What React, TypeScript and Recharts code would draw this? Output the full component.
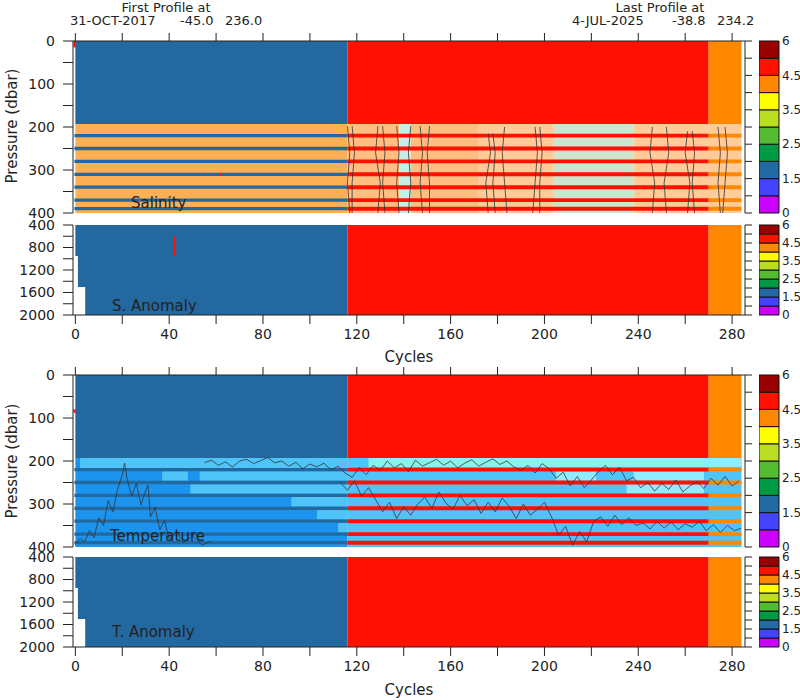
import React from 'react';
import { ComposedChart, BarChart, Bar, XAxis, YAxis, ReferenceArea, Line } from 'recharts';

const FONT = '"DejaVu Sans", sans-serif';

// palette
const BLUE = '#2468A0';
const RED = '#FF1000';
const ORANGE = '#FF8800';

// float record split into three colour segments (cycles)
const segFrom = [0, 116, 270];
const segTo = [116, 270, 284];
const segColor = [BLUE, RED, ORANGE];

const mixedBottom = 193; // dbar, end of the solid upper block
const stripePressures = [220, 250, 280, 310, 340, 370, 390];

const cycleTicks = [0, 20, 40, 60, 80, 100, 120, 140, 160, 180, 200, 220, 240, 260, 280];
const upperTicks = [0, 50, 100, 150, 200, 250, 300, 350, 400];
const upperRightTicks = [0, 40, 80, 120, 160, 200, 240, 280, 320, 360, 400];
const deepTicks = [400, 600, 800, 1000, 1200, 1400, 1600, 1800, 2000];
const deepRightTicks = [400, 560, 720, 880, 1040, 1200, 1360, 1520, 1680, 1840, 2000];

// salinity 193-400 dbar background shades by cycle range
const salShadeFrom = [0, 116, 138, 143, 172, 204, 238];
const salShadeTo = [116, 138, 143, 172, 204, 238, 284];
const salShade = ['#FDAF55', '#FFBE82', '#C6EEE4', '#FFBE82', '#FFCB98', '#CDE5CF', '#FFCB98'];

// temperature 193-400 dbar: [cycle from, cycle to, p from, p to, shade]
const tempBase: [number, number, number, number, number][] = [
  [0, 116, 193, 400, 0],
  [116, 284, 193, 400, 1],
  [2, 116, 193, 216, 1],
  [37, 48, 224, 246, 1],
  [53, 116, 224, 246, 1],
  [49, 116, 254, 276, 1],
  [92, 116, 284, 306, 1],
  [103, 116, 314, 336, 1],
  [112, 116, 344, 366, 1],
  [125, 284, 193, 214, 2],
  [205, 222, 224, 246, 2],
  [238, 268, 224, 246, 2],
  [235, 268, 254, 276, 2],
];
const tempShades = ['#1A94EE', '#4EC4F8', '#8FEDFF'];

// isotherm traces [cycle, dbar]
const tempUpper: [number, number][] = [
  [55, 204], [58, 198], [61, 210], [64, 202], [67, 214], [70, 200], [73, 196], [76, 206], [79, 199], [82, 192],
  [85, 204], [88, 200], [91, 212], [94, 203], [97, 218], [100, 207], [103, 214], [106, 205], [109, 221], [112, 212],
  [115, 228], [118, 238], [121, 215], [124, 232], [127, 210], [130, 222], [133, 200], [136, 216], [139, 206], [142, 225],
  [145, 198], [148, 212], [151, 204], [154, 196], [157, 210], [160, 200], [163, 216], [166, 205], [169, 197], [172, 212],
  [175, 203], [178, 195], [181, 208], [184, 200], [187, 214], [190, 222], [193, 210], [196, 228], [199, 206], [202, 218],
  [205, 240], [208, 226], [211, 258], [214, 236], [217, 262], [220, 244], [223, 225], [226, 210], [229, 232], [232, 214],
  [235, 246], [238, 238], [241, 262], [244, 250], [247, 270], [250, 252], [253, 266], [256, 244], [259, 272], [262, 258],
  [265, 248], [268, 264], [271, 240], [274, 256], [277, 236], [280, 258], [283, 246],
];
const tempLowerLeft: [number, number][] = [
  [0, 395], [2, 380], [4, 388], [6, 362], [8, 378], [10, 332], [12, 350], [14, 292], [16, 318], [18, 266],
  [20, 232], [21, 205], [22, 240], [24, 282], [26, 252], [28, 302], [30, 268], [31, 256], [32, 330], [34, 308],
  [36, 360], [38, 338], [40, 382], [43, 364], [46, 390], [50, 374], [54, 396], [58, 386],
];
const tempLowerRight: [number, number][] = [
  [113, 250], [116, 268], [119, 246], [122, 282], [125, 262], [128, 290], [131, 318], [134, 296], [137, 334], [140, 306],
  [143, 326], [146, 300], [149, 284], [152, 310], [155, 272], [158, 298], [161, 312], [164, 280], [167, 304], [170, 290],
  [173, 322], [176, 296], [179, 318], [182, 286], [185, 306], [188, 334], [191, 300], [194, 326], [197, 312], [200, 296],
  [203, 330], [206, 372], [209, 352], [212, 396], [215, 364], [218, 388], [221, 340], [224, 330], [227, 352], [230, 326],
  [233, 348], [236, 332], [239, 350], [242, 344], [245, 358], [248, 340], [251, 356], [254, 342], [257, 360], [260, 346],
  [263, 354], [266, 340], [269, 362], [272, 348], [275, 366], [278, 350], [281, 362], [284, 356],
];

// isohaline traces, each [cycle, dbar]
const salContours: [number, number][][] = [
  [[116, 198], [117, 260], [116, 330], [117, 400]],
  [[118, 198], [119, 260], [118, 330], [118, 400]],
  [[129, 198], [128, 260], [130, 330], [129, 400]],
  [[131, 198], [132, 260], [131, 330], [132, 400]],
  [[137, 198], [138, 260], [137, 330], [138, 400]],
  [[143, 198], [142, 260], [143, 330], [142, 400]],
  [[147, 198], [148, 260], [147, 330], [148, 400]],
  [[151, 198], [150, 260], [151, 330], [151, 400]],
  [[176, 215], [177, 260], [175, 330], [176, 400]],
  [[178, 215], [179, 260], [178, 330], [179, 400]],
  [[183, 200], [182, 260], [183, 330], [184, 400]],
  [[196, 200], [197, 260], [196, 330], [195, 400]],
  [[198, 200], [199, 260], [198, 330], [198, 400]],
  [[246, 200], [245, 260], [247, 330], [246, 400]],
  [[252, 200], [253, 260], [251, 330], [252, 400]],
  [[261, 210], [260, 260], [262, 330], [261, 400]],
  [[263, 210], [264, 260], [263, 330], [264, 400]],
  [[274, 200], [275, 260], [274, 330], [275, 400]],
  [[277, 200], [278, 260], [277, 330], [276, 400]],
];

// anomaly panels: profile start cycle per depth band
const anomStart = [0, 1.1, 4.2];
const anomFrom = [400, 950, 1500];
const anomTo = [950, 1500, 2000];

// colour bar
const cbColors = ['#CC00FF', '#4444FF', '#236AA4', '#009944', '#55BB33', '#BBDD22', '#FFFF00', '#FF8800', '#FF1000', '#990000'];
const cbTickPos = [0, 2, 4, 6, 8, 10];
const cbTickLabels = ['0', '1.5', '2.5', '3.5', '4.5', '6'];

const X_DOMAIN: [number, number] = [-1, 285.5];

type Rect = { c1: number; c2: number; p1: number; p2: number; fill: string };

const upperBlock = (): Rect[] =>
  segFrom.map((c1, i) => ({ c1, c2: segTo[i], p1: 0, p2: mixedBottom, fill: segColor[i] }));

const stripes = (): Rect[] =>
  stripePressures.flatMap((p) =>
    segFrom.map((c1, i) => {
      const h = i === 0 ? 3.8 : 4.5;
      return { c1: i === 0 ? -0.4 : c1, c2: segTo[i], p1: p - h, p2: p + h, fill: segColor[i] };
    })
  );

const anomBlock = (): Rect[] => [
  ...anomStart.map((s, i) => ({ c1: s, c2: segTo[0], p1: anomFrom[i], p2: anomTo[i], fill: BLUE })),
  ...segFrom.slice(1).map((c1, i) => ({ c1, c2: segTo[i + 1], p1: 400, p2: 2000, fill: segColor[i + 1] })),
];

const salRects: Rect[] = [
  ...upperBlock(),
  ...salShadeFrom.map((c1, i) => ({ c1, c2: salShadeTo[i], p1: mixedBottom, p2: 400, fill: salShade[i] })),
  ...stripes(),
  { c1: -0.8, c2: 0.2, p1: 0, p2: 15, fill: RED },
  { c1: 61.5, c2: 62.5, p1: 307, p2: 313, fill: RED },
];

const tempRects: Rect[] = [
  ...upperBlock(),
  ...tempBase.map(([c1, c2, p1, p2, s]) => ({ c1, c2, p1, p2, fill: tempShades[s] })),
  ...stripes(),
  { c1: -0.8, c2: 0.2, p1: 80, p2: 88, fill: RED },
];

const sAnomRects: Rect[] = [...anomBlock(), { c1: 41.8, c2: 42.6, p1: 600, p2: 950, fill: RED }];
const tAnomRects: Rect[] = anomBlock();

const toPts = (a: [number, number][]) => a.map(([c, p]) => ({ c, p }));

const tickStyle = { fontSize: 14, fill: '#222', fontFamily: FONT };

type PanelProps = {
  top: number;
  height: number;
  mTop: number;
  mBottom: number;
  yDomain: [number, number];
  leftTicks: number[];
  labelStep: number;
  rightTicks: number[];
  bottomAxis: boolean;
  rects: Rect[];
  traces: [number, number][][];
};

function Panel({ top, height, mTop, mBottom, yDomain, leftTicks, labelStep, rightTicks, bottomAxis, rects, traces }: PanelProps) {
  return (
    <div style={{ position: 'absolute', left: 0, top, width: 800, height }}>
      <ComposedChart width={800} height={height} margin={{ top: mTop, right: 45, bottom: mBottom, left: 0 }}>
        <XAxis
          xAxisId="x"
          type="number"
          dataKey="c"
          orientation={bottomAxis ? 'bottom' : 'top'}
          domain={X_DOMAIN}
          allowDataOverflow
          ticks={cycleTicks}
          interval={0}
          height={bottomAxis ? 30 : 8}
          tickSize={bottomAxis ? 9 : 8}
          tickMargin={5}
          stroke="#222"
          tick={tickStyle}
          tickFormatter={(v: number) => (bottomAxis && v % 40 === 0 ? String(v) : '')}
        />
        <YAxis
          yAxisId="l"
          type="number"
          dataKey="p"
          domain={yDomain}
          reversed
          allowDataOverflow
          ticks={leftTicks}
          interval={0}
          width={73}
          tickSize={10}
          tickMargin={8}
          stroke="#222"
          tick={tickStyle}
          tickFormatter={(v: number) => (v % labelStep === 0 ? String(v) : '')}
        />
        <YAxis
          yAxisId="r"
          orientation="right"
          type="number"
          domain={yDomain}
          reversed
          allowDataOverflow
          ticks={rightTicks}
          interval={0}
          width={10}
          tickSize={7}
          stroke="#222"
          tickFormatter={() => ''}
        />
        {rects.map((r, i) => (
          <ReferenceArea
            key={'r' + i}
            xAxisId="x"
            yAxisId="l"
            x1={r.c1}
            x2={r.c2}
            y1={r.p1}
            y2={r.p2}
            fill={r.fill}
            fillOpacity={1}
            stroke="none"
            ifOverflow="hidden"
          />
        ))}
        {traces.map((t, i) => (
          <Line
            key={'t' + i}
            xAxisId="x"
            yAxisId="l"
            data={toPts(t)}
            dataKey="p"
            type="linear"
            stroke="#333"
            strokeWidth={0.8}
            dot={false}
            activeDot={false}
            isAnimationActive={false}
          />
        ))}
      </ComposedChart>
    </div>
  );
}

function ColorBar({ top, height }: { top: number; height: number }) {
  const row = [Object.fromEntries([['name', 'cb'], ...cbColors.map((_, i) => ['k' + i, 1])])];
  return (
    <div style={{ position: 'absolute', left: 759, top: top - 10, width: 45, height: height + 20 }}>
      <BarChart width={45} height={height + 20} data={row} margin={{ top: 10, right: 0, bottom: 10, left: 0 }} barCategoryGap={0}>
        <XAxis dataKey="name" hide />
        <YAxis
          orientation="right"
          type="number"
          domain={[0, 10]}
          ticks={cbTickPos}
          interval={0}
          width={25}
          axisLine={false}
          tickLine={false}
          tickSize={0}
          tickMargin={3}
          tick={{ fontSize: 12, fill: '#222', fontFamily: FONT }}
          tickFormatter={(v: number) => cbTickLabels[cbTickPos.indexOf(v)]}
        />
        {cbColors.map((c, i) => (
          <Bar key={i} dataKey={'k' + i} stackId="cb" fill={c} stroke="#111" strokeWidth={1} isAnimationActive={false} />
        ))}
      </BarChart>
    </div>
  );
}

function Txt({ x, y, size = 15, center = false, rotate = false, children }: { x: number; y: number; size?: number; center?: boolean; rotate?: boolean; children: React.ReactNode }) {
  const tf = rotate ? 'translate(-50%,-50%) rotate(-90deg)' : center ? 'translate(-50%,-50%)' : 'translateY(-50%)';
  return (
    <div style={{ position: 'absolute', left: x, top: y, fontSize: size, lineHeight: 1, whiteSpace: 'nowrap', transform: tf, color: '#222', fontFamily: FONT }}>
      {children}
    </div>
  );
}

export default function App() {
  return (
    <div style={{ position: 'absolute', left: 0, top: 0, width: 800, height: 700, background: '#fff', overflow: 'hidden' }}>
      <Panel top={0} height={232} mTop={33} mBottom={19} yDomain={[0, 400]} leftTicks={upperTicks} labelStep={100} rightTicks={upperRightTicks} bottomAxis={false} rects={salRects} traces={salContours} />
      <Panel top={215} height={130} mTop={10} mBottom={0} yDomain={[400, 2000]} leftTicks={deepTicks} labelStep={400} rightTicks={deepRightTicks} bottomAxis rects={sAnomRects} traces={[]} />
      <Panel top={330} height={236} mTop={37} mBottom={19} yDomain={[0, 400]} leftTicks={upperTicks} labelStep={100} rightTicks={upperRightTicks} bottomAxis={false} rects={tempRects} traces={[tempUpper, tempLowerLeft, tempLowerRight]} />
      <Panel top={547} height={130} mTop={10} mBottom={0} yDomain={[400, 2000]} leftTicks={deepTicks} labelStep={400} rightTicks={deepRightTicks} bottomAxis rects={tAnomRects} traces={[]} />

      <ColorBar top={41} height={172} />
      <ColorBar top={225} height={90} />
      <ColorBar top={375} height={172} />
      <ColorBar top={557} height={90} />

      <Txt x={166} y={6.5} size={13} center>First Profile at</Txt>
      <Txt x={70} y={19.5} size={13}>31-OCT-2017</Txt>
      <Txt x={180} y={19.5} size={13}>-45.0</Txt>
      <Txt x={225} y={19.5} size={13}>236.0</Txt>
      <Txt x={660} y={6.5} size={13} center>Last Profile at</Txt>
      <Txt x={572} y={19.5} size={13}>4-JUL-2025</Txt>
      <Txt x={672} y={19.5} size={13}>-38.8</Txt>
      <Txt x={717} y={19.5} size={13}>234.2</Txt>

      <Txt x={12} y={126} rotate>Pressure (dbar)</Txt>
      <Txt x={12} y={461} rotate>Pressure (dbar)</Txt>

      <Txt x={131} y={203}>Salinity</Txt>
      <Txt x={112} y={306}>S. Anomaly</Txt>
      <Txt x={110} y={536}>Temperature</Txt>
      <Txt x={112} y={632}>T. Anomaly</Txt>

      <Txt x={409} y={357} center>Cycles</Txt>
      <Txt x={409} y={690} center>Cycles</Txt>
    </div>
  );
}
